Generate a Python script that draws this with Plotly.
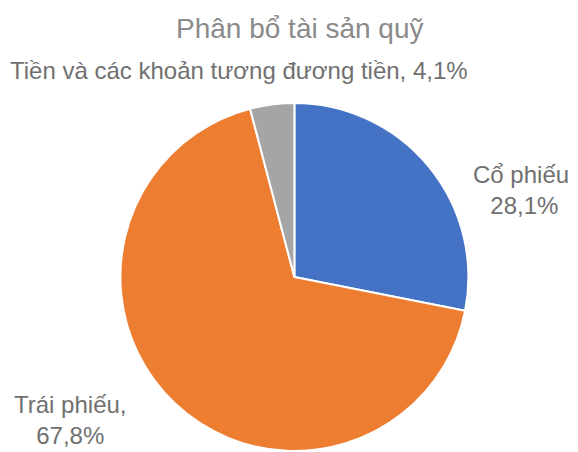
import plotly.graph_objects as go

categories = ["Cổ phiếu", "Trái phiếu", "Tiền và các khoản tương đương tiền"]
values = [28.1, 67.8, 4.1]
colors = ["#4472C4", "#ED7D31", "#A5A5A5"]
title_text = "Phân bổ tài sản quỹ"

# The page body has an 8px margin, so the figure is sized to fill the rest of the window
W, H = 570, 444

def fmt(v):
    return f"{v:.1f}".replace(".", ",") + "%"

fig = go.Figure(go.Pie(
    labels=categories,
    values=values,
    sort=False,
    direction="clockwise",
    rotation=0,
    marker=dict(colors=colors, line=dict(color="white", width=2)),
    textinfo="none",
    hoverinfo="label+percent",
    domain=dict(x=[112.4 / W, 460.4 / W], y=[1 / H, 349 / H]),
    showlegend=False,
))

label_font = dict(family="Liberation Sans, Arial", size=24, color="#707070")
# label positions (pixels in figure: x center, y center)
positions = [(516, 181.6), (62.5, 411.6), (230.5, 62.6)]
texts = [
    f"{categories[0]},<br>{fmt(values[0])}",
    f"{categories[1]},<br>{fmt(values[1])}",
    f"{categories[2]}, {fmt(values[2])}",
]
for (px, py), t in zip(positions, texts):
    fig.add_annotation(
        x=px / W, y=1 - py / H, xref="paper", yref="paper",
        text=t, showarrow=False, font=label_font, align="center",
        xanchor="center", yanchor="middle",
    )

fig.add_annotation(
    x=292 / W, y=1 - 20.5 / H, xref="paper", yref="paper",
    text=title_text, showarrow=False,
    font=dict(family="Liberation Sans, Arial", size=28, color="#8a8a8a"),
    xanchor="center", yanchor="middle",
)

fig.update_layout(
    width=W, height=H,
    margin=dict(l=0, r=0, t=0, b=0),
    paper_bgcolor="white",
    plot_bgcolor="white",
)

fig.write_html("out.html")
